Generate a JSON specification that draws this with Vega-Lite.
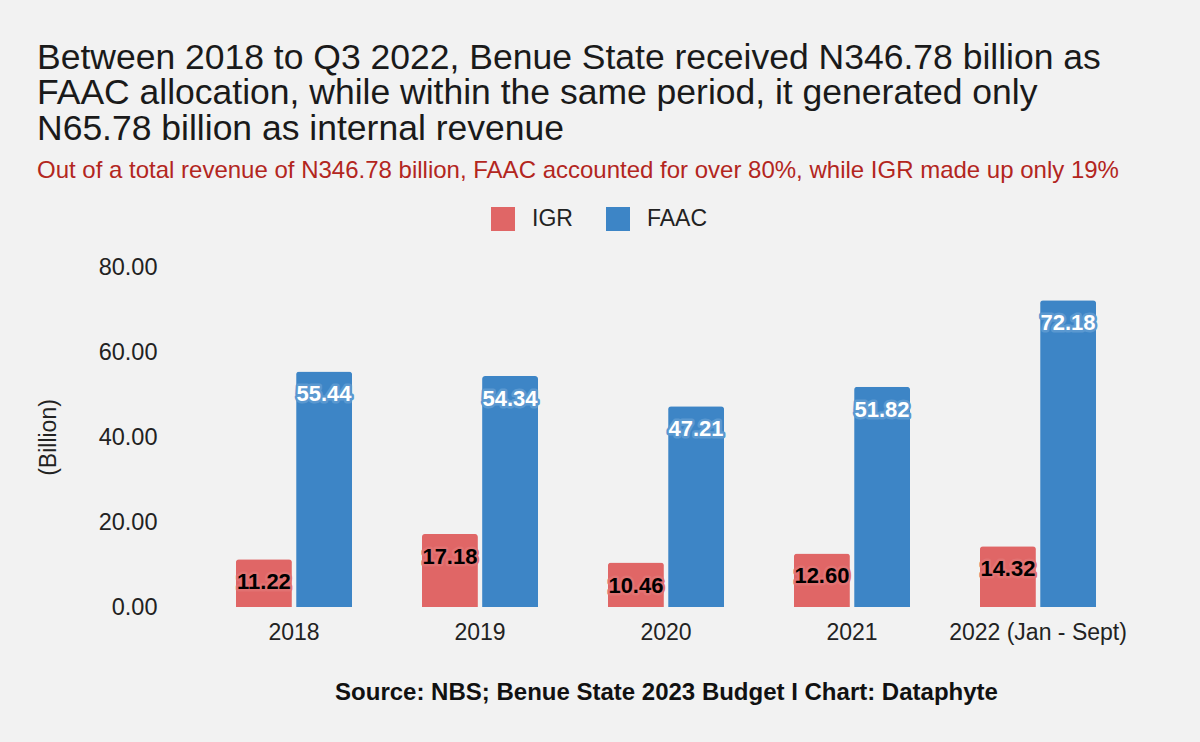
{
  "$schema": "https://vega.github.io/schema/vega-lite/v6.json",
  "width": 930,
  "height": 340,
  "autosize": {"type": "none"},
  "padding": {"left": 201, "top": 267, "right": 69, "bottom": 135},
  "background": "#f2f2f2",
  "config": {
    "font": "Liberation Sans",
    "view": {"stroke": null},
    "axis": {"grid": false, "domain": false, "ticks": false}
  },
  "title": {
    "text": ["Between 2018 to Q3 2022, Benue State received N346.78 billion as", "FAAC allocation, while within the same period, it generated only", "N65.78 billion as internal revenue"],
    "subtitle": "Out of a total revenue of N346.78 billion, FAAC accounted for over 80%, while IGR made up only 19%",
    "anchor": "start",
    "frame": "group",
    "dx": -164,
    "fontSize": 35.5,
    "fontWeight": "normal",
    "color": "#1a1a1a",
    "lineHeight": 35.5,
    "subtitleFontSize": 24,
    "subtitleColor": "#b3261e",
    "subtitlePadding": 12,
    "offset": 24
  },
  "data": {
    "values": [
      {"year": "2018", "series": "IGR", "value": 11.22},
      {"year": "2018", "series": "FAAC", "value": 55.44},
      {"year": "2019", "series": "IGR", "value": 17.18},
      {"year": "2019", "series": "FAAC", "value": 54.34},
      {"year": "2020", "series": "IGR", "value": 10.46},
      {"year": "2020", "series": "FAAC", "value": 47.21},
      {"year": "2021", "series": "IGR", "value": 12.60},
      {"year": "2021", "series": "FAAC", "value": 51.82},
      {"year": "2022 (Jan - Sept)", "series": "IGR", "value": 14.32},
      {"year": "2022 (Jan - Sept)", "series": "FAAC", "value": 72.18}
    ]
  },
  "encoding": {
    "x": {
      "field": "year", "type": "nominal", "sort": null,
      "scale": {"paddingInner": 0.376, "paddingOuter": 0.188},
      "axis": {
        "labelAngle": 0, "labelFontSize": 23, "labelColor": "#222", "labelPadding": 14,
        "title": "Source: NBS; Benue State 2023 Budget I Chart: Dataphyte",
        "titleFontSize": 24, "titleFontWeight": "bold", "titleColor": "#111", "titlePadding": 36
      }
    },
    "xOffset": {"field": "series", "type": "nominal", "sort": ["IGR", "FAAC"], "scale": {"paddingInner": 0.07}},
    "y": {
      "field": "value", "type": "quantitative",
      "scale": {"domain": [0, 80]},
      "axis": {
        "values": [0, 20, 40, 60, 80], "format": ".2f",
        "labelFontSize": 23.5, "labelColor": "#222", "labelPadding": 44,
        "title": "(Billion)", "titleFontSize": 23, "titleFontWeight": "normal", "titleColor": "#222", "titlePadding": 38
      }
    }
  },
  "layer": [
    {
      "mark": {"type": "bar", "cornerRadiusTopLeft": 3, "cornerRadiusTopRight": 3},
      "encoding": {
        "color": {
          "field": "series", "type": "nominal", "sort": ["IGR", "FAAC"],
          "scale": {"domain": ["IGR", "FAAC"], "range": ["#e06666", "#3d85c6"]},
          "legend": {
            "title": null, "orient": "none", "direction": "horizontal",
            "legendX": 290, "legendY": -60,
            "symbolType": "square", "symbolSize": 576, "symbolStrokeWidth": 0,
            "labelFontSize": 23, "labelColor": "#222", "columnPadding": 33, "labelOffset": 17
          }
        }
      }
    },
    {
      "mark": {"type": "text", "baseline": "middle", "dy": 23, "fontSize": 22, "fontWeight": "bold", "strokeWidth": 5, "strokeJoin": "round"},
      "encoding": {
        "text": {"field": "value", "type": "quantitative", "format": ".2f"},
        "stroke": {"field": "series", "type": "nominal", "scale": {"domain": ["IGR", "FAAC"], "range": ["#e27272", "#5a98d0"]}, "legend": null},
        "color": {"value": "transparent"}
      }
    },
    {
      "mark": {"type": "text", "baseline": "middle", "dy": 23, "fontSize": 22, "fontWeight": "bold"},
      "encoding": {
        "text": {"field": "value", "type": "quantitative", "format": ".2f"},
        "color": {"field": "series", "type": "nominal", "scale": {"domain": ["IGR", "FAAC"], "range": ["#000000", "#ffffff"]}, "legend": null}
      }
    }
  ],
  "resolve": {"scale": {"color": "independent"}}
}
